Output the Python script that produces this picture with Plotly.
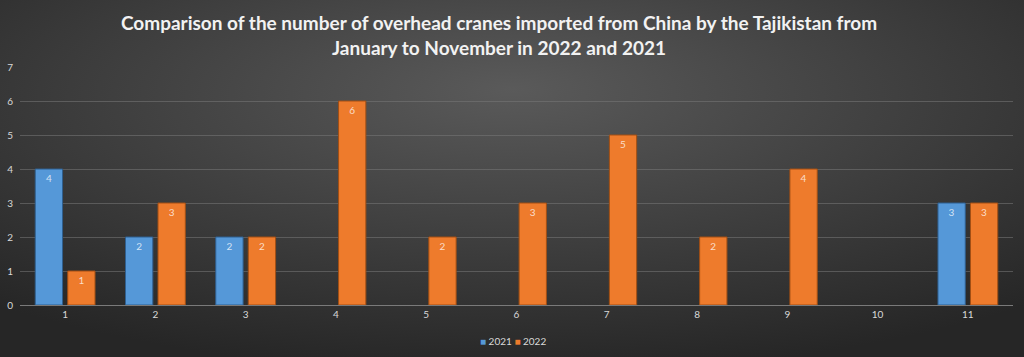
import base64
import plotly.graph_objects as go

months = ["1", "2", "3", "4", "5", "6", "7", "8", "9", "10", "11"]
y2021 = [4, 2, 2, None, None, None, None, None, None, None, 3]
y2022 = [1, 3, 2, 6, 2, 3, 5, 2, 4, None, 3]
series_names = ["2021", "2022"]
colors = ["#5598d8", "#ee7b2c"]
edge_colors = ["#2f5f8f", "#a14f14"]

W, H = 1024, 357
L, R, T, B = 20, 11, 67, 52
pw, ph = W - L - R, H - T - B

svg = f'''<svg xmlns="http://www.w3.org/2000/svg" width="{W}" height="{H}" viewBox="0 0 {W} {H}" preserveAspectRatio="none">
<defs><radialGradient id="g" cx="50%" cy="30%" r="75%" fx="50%" fy="25%">
<stop offset="0%" stop-color="#5a5a5a"/><stop offset="100%" stop-color="#262626"/></radialGradient></defs>
<rect width="{W}" height="{H}" fill="url(#g)"/></svg>'''
src = "data:image/svg+xml;base64," + base64.b64encode(svg.encode()).decode()

fig = go.Figure()
for name, vals, c, ec in zip(series_names, [y2021, y2022], colors, edge_colors):
    fig.add_bar(x=months, y=vals, name=name, showlegend=False,
                marker=dict(color=c, line=dict(color=ec, width=1)),
                texttemplate="%{y}", textposition="inside",
                insidetextanchor="end", textangle=0,
                textfont=dict(color="rgba(255,255,255,0.75)", size=10, family="Lato"))

legend_text = " ".join(f"<span style='color:{c}'>■</span> {n}" for n, c in zip(series_names, colors))
fig.add_annotation(text=legend_text, xref="paper", yref="paper",
                   x=(513 - L) / pw, y=-(341 - 305) / ph, xanchor="center", yanchor="middle",
                   showarrow=False, font=dict(family="Lato", size=10, color="#d9d9d9"))

fig.update_layout(
    width=W, height=H,
    margin=dict(l=L, r=R, t=T, b=B, autoexpand=False),
    paper_bgcolor="#3a3a3a", plot_bgcolor="rgba(0,0,0,0)",
    images=[dict(source=src, xref="paper", yref="paper",
                 x=-L / pw, y=1 + T / ph, sizex=W / pw, sizey=H / ph,
                 xanchor="left", yanchor="top", sizing="stretch", layer="below")],
    title=dict(text="Comparison of the number of overhead cranes imported from China by the Tajikistan from<br>January to November in 2022 and 2021",
               x=(499 - L) / pw, xref="paper", xanchor="center", y=1 - 30 / H, yref="container", yanchor="middle",
               font=dict(family="Lato", size=19, color="#f2f2f2", weight="bold")),
    barmode="group", bargap=0.28, bargroupgap=0.16,
    showlegend=False,
    xaxis=dict(showgrid=False, tickfont=dict(family="Lato", size=10, color="#d9d9d9"),
               showline=True, linecolor="#7a7a7a", linewidth=1, ticks=""),
    yaxis=dict(range=[0, 7], dtick=1, showgrid=True, gridcolor="rgba(120,120,120,0.55)",
               gridwidth=1, zeroline=False,
               tickfont=dict(family="Lato", size=10, color="#d9d9d9"), ticklabelstandoff=6),
)
fig.write_html("out.html", config={"displayModeBar": False},
               post_script="document.body.style.margin='0';document.body.style.overflow='hidden';")
